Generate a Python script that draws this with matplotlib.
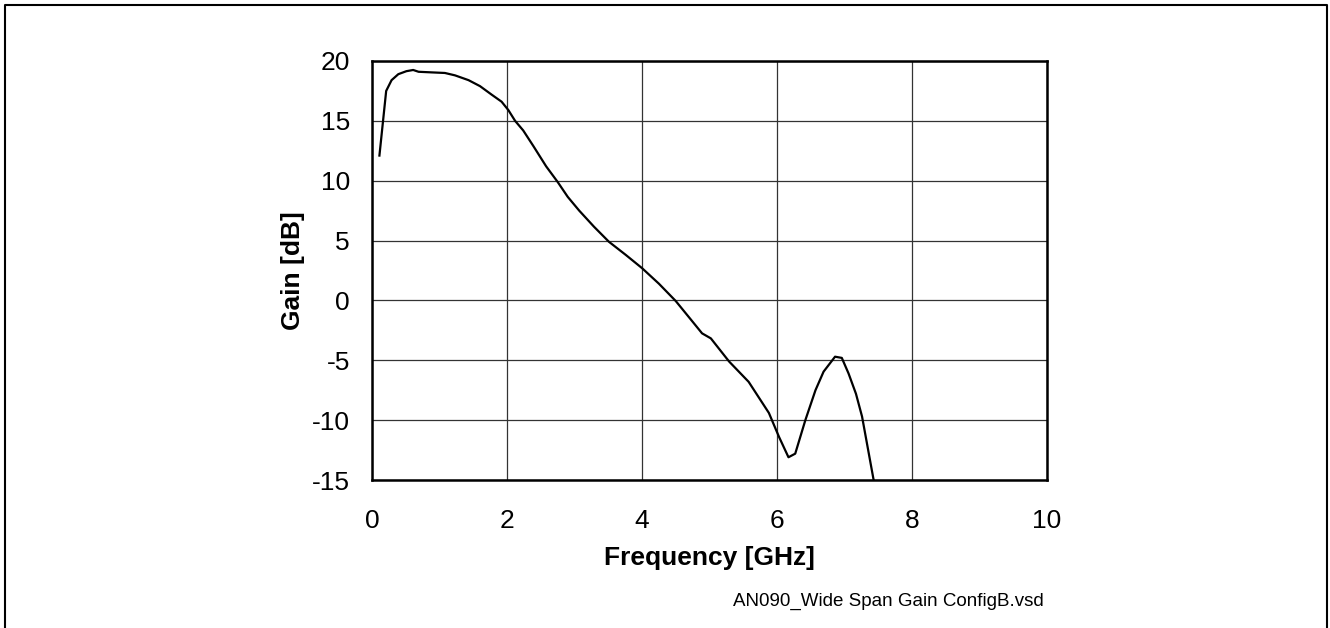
import matplotlib
matplotlib.use("Agg")
import matplotlib.pyplot as plt
from matplotlib.lines import Line2D

plt.rcParams['font.family'] = ['Liberation Sans', 'DejaVu Sans']
plt.rcParams['axes.unicode_minus'] = False

# frequency [GHz] and gain [dB]
freq = [0.11, 0.21, 0.29, 0.39, 0.51, 0.61, 0.69, 0.88, 1.08, 1.23, 1.43, 1.60,
        1.77, 1.92, 2.02, 2.12, 2.24, 2.39, 2.58, 2.75, 2.90, 3.07, 3.29, 3.51,
        3.76, 4.00, 4.25, 4.50, 4.73, 4.89, 5.02, 5.29, 5.58, 5.88, 6.03, 6.17,
        6.27, 6.42, 6.57, 6.69, 6.86, 6.96, 7.06, 7.17, 7.26, 7.43, 7.55]
gain = [12.1, 17.5, 18.4, 18.9, 19.15, 19.25, 19.1, 19.05, 19.0, 18.8, 18.4, 17.9,
        17.2, 16.6, 15.9, 15.0, 14.2, 12.9, 11.2, 9.9, 8.65, 7.5, 6.15, 4.9,
        3.8, 2.7, 1.4, -0.05, -1.64, -2.75, -3.17, -5.1, -6.8, -9.4, -11.4, -13.1,
        -12.8, -10.0, -7.5, -5.95, -4.7, -4.8, -6.1, -7.8, -9.7, -14.95, -17.5]

xticks = [0, 2, 4, 6, 8, 10]
yticks = [-15, -10, -5, 0, 5, 10, 15, 20]

fig = plt.figure(figsize=(13.3, 6.28), dpi=100)
W, H = 1330, 628
ax = fig.add_axes([372 / W, 1 - 480 / H, (1047 - 372) / W, (480 - 61) / H])

ax.plot(freq, gain, color='black', linewidth=1.6)

ax.set_xlim(0, 10)
ax.set_ylim(-15, 20)
ax.set_xticks(xticks)
ax.set_yticks(yticks)
ax.grid(True, color='#333333', linewidth=0.9)
ax.tick_params(length=0, labelsize=19)
ax.tick_params(axis='x', pad=21)
ax.tick_params(axis='y', pad=16)
for s in ax.spines.values():
    s.set_linewidth(1.8)

ax.set_xlabel('Frequency [GHz]', fontsize=19, fontweight='bold', labelpad=9)
ax.set_ylabel('Gain [dB]', fontsize=19, fontweight='bold', labelpad=5)

fig.text(1044 / W, 1 - 601 / H, 'AN090_Wide Span Gain ConfigB.vsd',
         fontsize=13.5, ha='right', va='center')

# outer frame (open at bottom)
fig.add_artist(Line2D([5 / W, 5 / W, 1327 / W, 1327 / W],
                      [-0.01, 1 - 5 / H, 1 - 5 / H, -0.01],
                      transform=fig.transFigure, color='black', linewidth=1.5))

fig.savefig('out.png', dpi=100)
